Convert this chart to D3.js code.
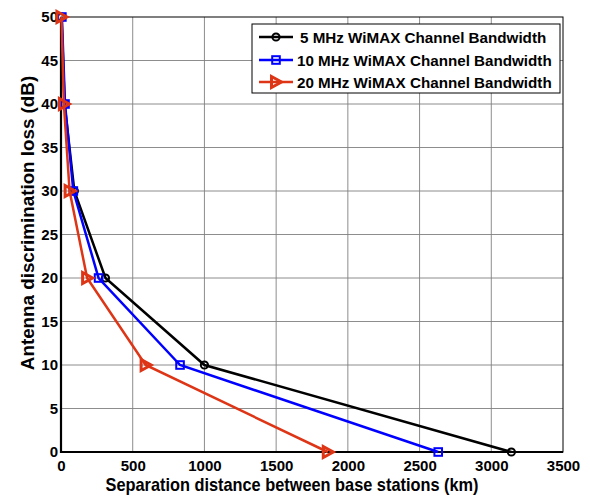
<!DOCTYPE html>
<html>
<head>
<meta charset="utf-8">
<script src="https://cdn.jsdelivr.net/npm/d3@7"></script>
<style>
  body { margin: 0; background: #fff; }
  text { font-family: "Liberation Sans", Arial, sans-serif; font-weight: bold; }
</style>
</head>
<body>
<script>
// data
var lossDb = [0, 10, 20, 30, 40, 50];
var dist5 = [3140, 1000, 310, 93, 25, 4];
var dist10 = [2630, 830, 262, 86, 28, 6];
var dist20 = [1860, 590, 182, 60, 20, 3];
var seriesNames = ["5 MHz WiMAX Channel Bandwidth", "10 MHz WiMAX Channel Bandwidth", "20 MHz WiMAX Channel Bandwidth"];
var xTicks = [0, 500, 1000, 1500, 2000, 2500, 3000, 3500];
var yTicks = [0, 5, 10, 15, 20, 25, 30, 35, 40, 45, 50];

var margin = {top: 17, right: 27, bottom: 45, left: 61};
var width = 590 - margin.left - margin.right;
var height = 497 - margin.top - margin.bottom;

var svg = d3.select("body").append("svg")
    .attr("width", 590)
    .attr("height", 497);

var g = svg.append("g")
    .attr("transform", "translate(" + margin.left + "," + margin.top + ")");

var x = d3.scaleLinear().domain([0, 3500]).range([0, width]);
var y = d3.scaleLinear().domain([0, 50]).range([height, 0]);

// grid
g.append("g").selectAll("line").data(xTicks.slice(1, -1)).enter().append("line")
    .attr("x1", d => x(d)).attr("x2", d => x(d))
    .attr("y1", 0).attr("y2", height)
    .attr("stroke", "#808080").attr("stroke-width", 0.9);
g.append("g").selectAll("line").data(yTicks.slice(1, -1)).enter().append("line")
    .attr("x1", 0).attr("x2", width)
    .attr("y1", d => y(d)).attr("y2", d => y(d))
    .attr("stroke", "#808080").attr("stroke-width", 0.9);

// axes
var xAxis = d3.axisBottom(x).tickValues(xTicks).tickFormat(d3.format("d")).tickSize(0).tickPadding(8);
g.append("g")
    .attr("transform", "translate(0," + height + ")")
    .call(xAxis)
    .call(s => s.select(".domain").remove())
    .selectAll("text").attr("font-size", "15px").attr("fill", "#000")
    .style("font-family", "Liberation Sans, Arial, sans-serif").style("font-weight", "bold");

var yAxis = d3.axisLeft(y).tickValues(yTicks).tickFormat(d3.format("d")).tickSize(0).tickPadding(3);
g.append("g")
    .call(yAxis)
    .call(s => s.select(".domain").remove())
    .selectAll("text").attr("font-size", "15px").attr("fill", "#000")
    .style("font-family", "Liberation Sans, Arial, sans-serif").style("font-weight", "bold");

// box
g.append("rect")
    .attr("x", 0).attr("y", 0).attr("width", width).attr("height", height)
    .attr("fill", "none").attr("stroke", "#000").attr("stroke-width", 1);
g.append("path")
    .attr("d", "M0,0V" + height + "H" + width)
    .attr("fill", "none").attr("stroke", "#000").attr("stroke-width", 2.2);

// series
var series = [
  {name: seriesNames[0], vals: dist5, color: "#000000", marker: "circle"},
  {name: seriesNames[1], vals: dist10, color: "#0000ff", marker: "square"},
  {name: seriesNames[2], vals: dist20, color: "#dd3515", marker: "triangle"}
];

var line = d3.line().x(d => x(d[0])).y(d => y(d[1]));

function drawMarker(sel, type, color) {
  if (type === "circle") {
    sel.append("circle").attr("r", 3.6)
      .attr("fill", "none").attr("stroke", color).attr("stroke-width", 2);
  } else if (type === "square") {
    sel.append("rect").attr("x", -3.8).attr("y", -3.8).attr("width", 7.6).attr("height", 7.6)
      .attr("fill", "none").attr("stroke", color).attr("stroke-width", 2);
  } else {
    sel.append("path").attr("d", "M-4.5,-5.5L5.5,0L-4.5,5.5Z")
      .attr("fill", "none").attr("stroke", color).attr("stroke-width", 3).attr("stroke-linejoin", "miter");
  }
}

series.forEach(function(s) {
  var pts = s.vals.map((v, i) => [v, lossDb[i]]);
  g.append("path").datum(pts)
    .attr("d", line)
    .attr("fill", "none").attr("stroke", s.color).attr("stroke-width", 2.5);
  g.append("g").selectAll("g").data(pts).enter().append("g")
    .attr("transform", d => "translate(" + x(d[0]) + "," + y(d[1]) + ")")
    .each(function() { drawMarker(d3.select(this), s.marker, s.color); });
});

// legend
var leg = svg.append("g").attr("transform", "translate(252,24)");
leg.append("rect").attr("width", 308).attr("height", 69)
  .attr("fill", "#fff").attr("stroke", "#000").attr("stroke-width", 1);
var rowY = [13, 36, 58];
series.forEach(function(s, i) {
  var r = leg.append("g").attr("transform", "translate(0," + rowY[i] + ")");
  r.append("line").attr("x1", 7).attr("x2", 41)
    .attr("stroke", s.color).attr("stroke-width", 2.5);
  var m = r.append("g").attr("transform", "translate(24,0)");
  drawMarker(m, s.marker, s.color);
  r.append("text").attr("x", i === 0 ? 48 : 45).attr("y", 5.5)
    .attr("font-size", "15.2px").text(s.name);
});

// axis titles
svg.append("text")
  .attr("x", 292).attr("y", 491)
  .attr("text-anchor", "middle").attr("font-size", "18.5px")
  .attr("textLength", 373).attr("lengthAdjust", "spacingAndGlyphs")
  .text("Separation distance between base stations (km)");

svg.append("text")
  .attr("transform", "translate(34,223) rotate(-90)")
  .attr("text-anchor", "middle").attr("font-size", "18.8px")
  .text("Antenna discrimination loss (dB)");
</script>
</body>
</html>
